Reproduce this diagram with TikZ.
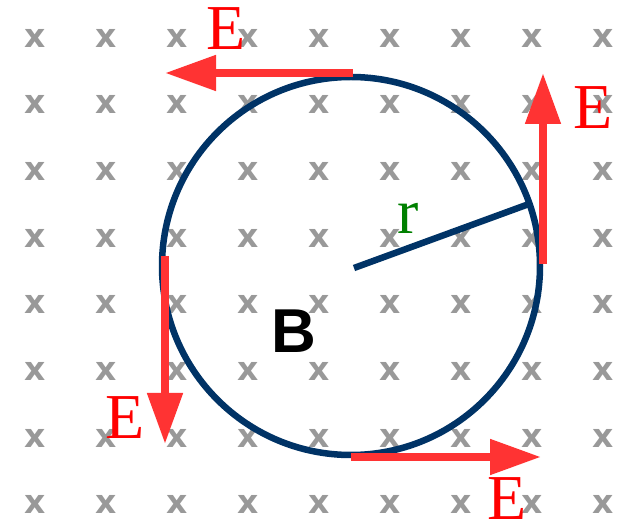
\documentclass[tikz,border=0pt]{standalone}
\usepackage{fontspec}
\setmainfont{Liberation Serif}
\newfontfamily\sansbold{Liberation Sans}[BoldFont={Liberation Sans Bold}]
\newfontfamily\markfont{DejaVu Sans}[BoldFont={DejaVu Sans Bold}]
\usetikzlibrary{arrows.meta}
\definecolor{navy}{HTML}{003366}
\definecolor{arrowred}{HTML}{FF3333}
\definecolor{gridgray}{HTML}{999999}
\definecolor{rgreen}{HTML}{008000}
\tikzset{
  fieldmark/.style={inner sep=0pt, text=gridgray, font=\markfont\bfseries\fontsize{33}{33}\selectfont},
  elabel/.style={inner sep=0pt, text=red, font=\fontsize{64}{64}\selectfont},
  earrow/.style={draw=arrowred, line width=8pt, -{Triangle[length=51pt,width=34pt]}, arrowred},
  orbit/.style={draw=navy, line width=6.5pt},
}
\begin{document}
\begin{tikzpicture}[x=1pt,y=-1pt]
\useasboundingbox (0,0) rectangle (625,521);
% grid of field marks
\foreach \i in {0,...,8}{
  \foreach \j in {0,...,7}{
    \node[fieldmark] (m\i\j) at ({35+71*\i},{38+66.7*\j}) {x};
  }
}
% orbit
\coordinate (O) at (351,266);
\node[circle, orbit, minimum size=378pt, inner sep=0pt] (C) at (O) {};
\coordinate (Rs) at (354,268);
\coordinate (Re) at (529,204);
\draw[navy, line width=6.5pt] (Rs) -- (Re);
\node[inner sep=0pt, text=rgreen, font=\fontsize{64}{64}\selectfont] (rl) at (408,218) {r};
\node[inner sep=0pt, font=\sansbold\bfseries\fontsize{62}{62}\selectfont] (B) at (294,331) {B};
% arrows
\coordinate (t1) at (353,73);  \coordinate (t2) at (165,73);
\coordinate (r1) at (543,264); \coordinate (r2) at (543,73);
\coordinate (l1) at (165,256); \coordinate (l2) at (165,444);
\coordinate (b1) at (351,457); \coordinate (b2) at (541,457);
\draw[earrow] (t1) -- (t2);
\draw[earrow] (r1) -- (r2);
\draw[earrow] (l1) -- (l2);
\draw[earrow] (b1) -- (b2);
\node[elabel] (Et) at (226,29) {E};
\node[elabel] (Er) at (593,108) {E};
\node[elabel] (El) at (125,418) {E};
\node[elabel] (Eb) at (507,499) {E};
\end{tikzpicture}
\end{document}
